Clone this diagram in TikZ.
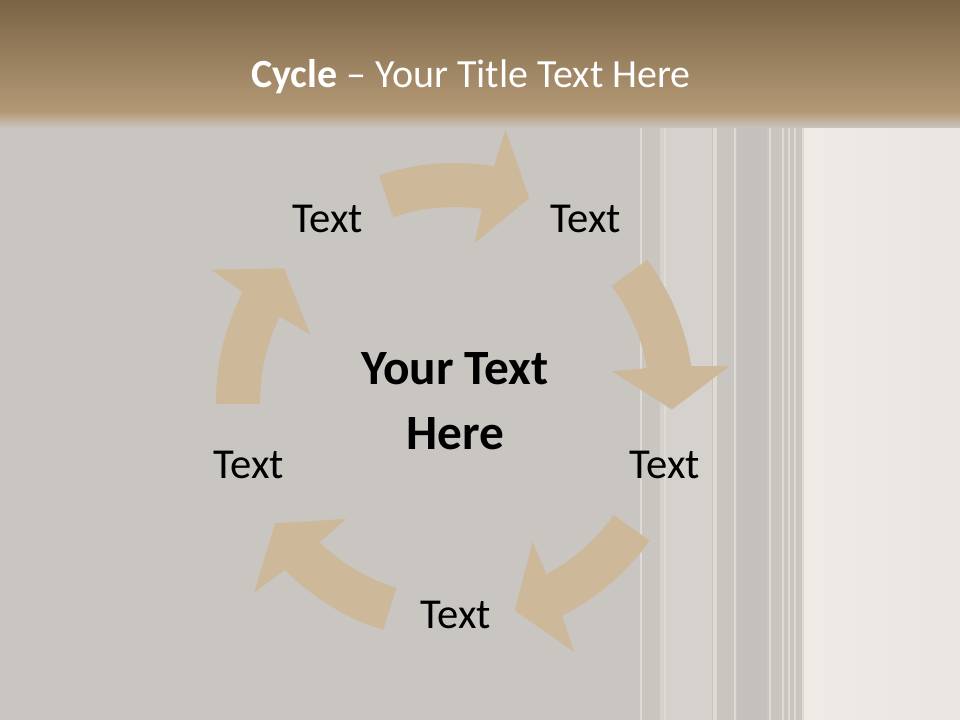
\documentclass[tikz,border=0pt]{standalone}
\usepackage{fontspec}
\setmainfont{Carlito}
\usetikzlibrary{positioning}
\definecolor{cycletan}{RGB}{205,184,153}
\definecolor{wallgrey}{RGB}{201,197,193}
\definecolor{wallband}{RGB}{213,209,205}
\definecolor{wallshade}{RGB}{195,192,190}
\definecolor{panellight}{RGB}{234,229,224}
\definecolor{stripelight}{RGB}{224,218,212}
\definecolor{titletop}{RGB}{122,100,70}
\definecolor{titlebot}{RGB}{180,153,117}

\begin{document}
\begin{tikzpicture}[x=0.75pt,y=0.75pt,
  cyc/.style={fill=cycletan},
  lbl/.style={font=\fontsize{32}{38}\selectfont,text=black},
  stripeline/.style={draw=stripelight,line width=1pt}]
  \useasboundingbox (0,0) rectangle (960,720);
  % wall and panel
  \fill[wallgrey] (0,0) rectangle (960,720);
  \fill[wallband] (660,0) rectangle (712,720);
  \fill[wallshade] (737,0) rectangle (767,720);
  \shade[left color=panellight!80!white,right color=panellight] (803,0) rectangle (960,720);
  \foreach \sx in {641,665,714,716,735,770,783,789,795,803}
    \draw[stripeline] (\sx,0) -- (\sx,600);
  % title bar
  \shade[top color=titletop,bottom color=titlebot] (0,608) rectangle (960,720);
  \shade[top color=titlebot,bottom color=wallgrey] (0,592) rectangle (960,608);
  \node[text=white,font=\fontsize{30}{36}\selectfont,anchor=base](title) at (471,632)
    {\textbf{Cycle} -- Your Title Text Here};
  % cycle
  \coordinate (ctr) at (455,318);
  \foreach \k in {0,...,4}
    \fill[cyc,shift={(ctr)},rotate=-72*\k] (108.5:239)
      arc[start angle=108.5,end angle=80.6,radius=239] -- (79.5:277) -- (70:217)
      -- (83:160) -- (82:195) arc[start angle=82,end angle=108.5,radius=195] -- cycle;
  \node[font=\bfseries\fontsize{37}{49}\selectfont,align=center](mid) at (455,318.5)
    {Your Text\\Here};
  \node[lbl](t1) at (328,501) {Text};
  \node[lbl](t2) at (586,501) {Text};
  \node[lbl](t3) at (665,255) {Text};
  \node[lbl](t4) at (456,105) {Text};
  \node[lbl](t5) at (249,255) {Text};
\end{tikzpicture}
\end{document}
